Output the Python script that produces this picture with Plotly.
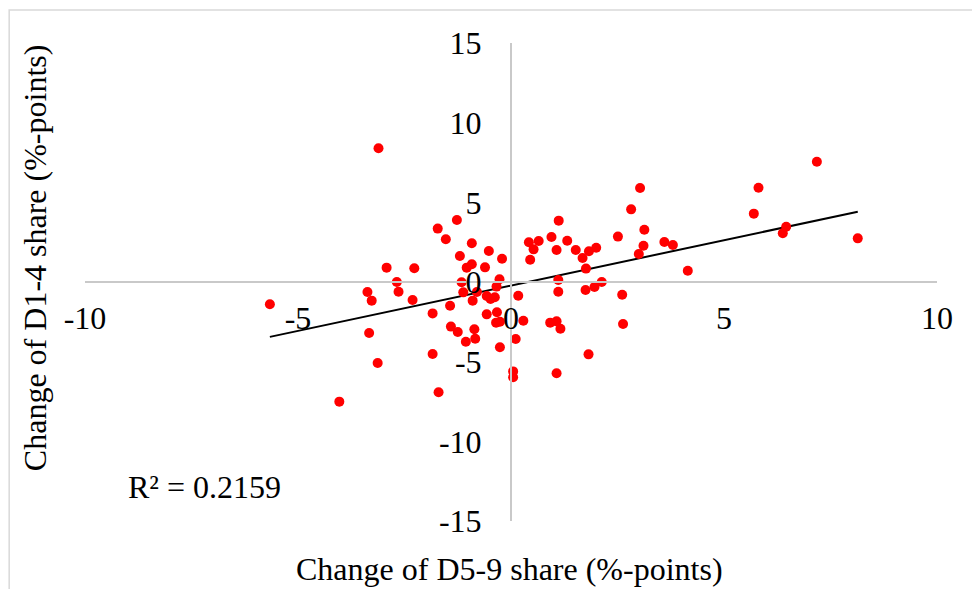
import numpy as np
import plotly.graph_objects as go

# Change of D5-9 share (%-points)
d59_change = [
    -3.11, -1.27, -1.72, -1.53, -0.92, -0.52, -0.21, -1.20, -1.04, -0.92,
    -0.61, -2.92, -2.27, -2.68, -2.64, -3.37, -3.27, -2.31, -5.66, -1.16,
    -1.12, -0.27, -0.34, -0.57, -0.38, -0.48, -0.90, -1.43, -1.84, -0.57,
    -0.33, -0.35, -0.26, -1.41, -1.25, -0.86, -0.84, -1.06, -0.26, -3.33,
    -1.84, -3.13, 0.05, 0.05, -1.70, -4.03, 0.11, 0.17, 3.03, 2.82,
    3.13, 3.11, 3.00, 3.60, 3.80, 4.15, 2.51, 1.12, 0.95, 0.65,
    0.42, 0.53, 1.07, 1.32, 1.52, 1.83, 2.00, 1.68, 0.45, 1.76,
    1.11, 1.11, 1.75, 1.96, 2.13, 2.61, 2.63, 0.29, 0.92, 1.07,
    1.16, 1.82, 1.07, 7.18, 5.81, 5.70, 6.46, 6.38, 8.14, -0.80,
]
# Change of D1-4 share (%-points)
d14_change = [
    8.39, 3.89, 3.35, 2.68, 2.43, 1.95, 1.46, 1.63, 0.90, 1.11,
    0.92, 0.90, 0.86, 0.00, -0.61, -0.63, -1.17, -1.13, -1.40, -0.02,
    -0.65, 0.17, -0.29, -0.88, -0.96, -1.07, -1.17, -1.49, -1.97, -2.03,
    -1.90, -2.55, -2.49, -2.80, -3.14, -2.97, -3.56, -3.75, -4.10, -3.20,
    -4.52, -5.08, -5.61, -5.98, -6.92, -7.51, -3.58, -0.86, 5.90, 4.56,
    3.28, 2.28, 1.76, 2.51, 2.32, 0.71, 2.85, 3.85, 2.82, 2.57,
    2.49, 2.05, 2.01, 2.59, 2.01, 1.93, 2.15, 1.51, 1.40, 0.84,
    0.13, -0.61, -0.50, -0.31, 0.00, -0.80, -2.64, -2.43, -2.55, -2.47,
    -2.93, -4.54, -5.73, 7.55, 5.92, 4.29, 3.47, 3.06, 2.74, -0.63,
]
x_ticks = [-10, -5, 0, 5, 10]
y_ticks = [-15, -10, -5, 0, 5, 10, 15]
r2_label = "R² = 0.2159"
x_title = "Change of D5-9 share (%-points)"
y_title = "Change of D1-4 share (%-points)"

xs = np.array(d59_change)
ys = np.array(d14_change)
slope, intercept = np.polyfit(xs, ys, 1)
trend_x = np.array([xs.min(), xs.max()])
trend_y = slope * trend_x + intercept

FONT = "Liberation Serif, Times New Roman, serif"
FS = 32

fig = go.Figure()
fig.add_trace(go.Scatter(
    x=trend_x, y=trend_y, mode="lines",
    line=dict(color="black", width=2), hoverinfo="skip", showlegend=False,
))
fig.add_trace(go.Scatter(
    x=xs, y=ys, mode="markers",
    marker=dict(color="#ff0000", size=10, line=dict(width=0)),
    showlegend=False,
))

fig.update_layout(
    width=972, height=589,
    margin=dict(l=85, r=35, t=43, b=68),
    plot_bgcolor="white", paper_bgcolor="white",
    font=dict(family=FONT, size=FS, color="black"),
    xaxis=dict(
        range=[-10, 10], tickvals=x_ticks, ticktext=[str(v) for v in x_ticks],
        anchor="free", position=0.5, showline=True, linecolor="#c9c9c9",
        linewidth=2, showgrid=False, zeroline=False,
        ticks="outside", ticklen=8, tickcolor="rgba(0,0,0,0)",
        tickfont=dict(family=FONT, size=FS),
    ),
    yaxis=dict(
        range=[-15, 15], tickvals=y_ticks, ticktext=[str(v) for v in y_ticks],
        anchor="free", position=0.5, showline=True, linecolor="#c9c9c9",
        linewidth=2, showgrid=False, zeroline=False,
        ticks="outside", ticklen=22, tickcolor="rgba(0,0,0,0)",
        tickfont=dict(family=FONT, size=FS),
    ),
    shapes=[dict(
        type="rect", xref="paper", yref="paper",
        x0=-0.089, x1=1.3, y0=-0.4, y1=1.069,
        line=dict(color="#d9d9d9", width=1.5), fillcolor="rgba(0,0,0,0)",
        layer="below",
    )],
    annotations=[
        dict(text=x_title, xref="paper", yref="paper", x=0.4977, y=-0.101,
             showarrow=False, font=dict(family=FONT, size=FS),
             xanchor="center", yanchor="middle"),
        dict(text=y_title, xref="paper", yref="paper", x=-0.0587, y=0.552,
             showarrow=False, textangle=-90, font=dict(family=FONT, size=FS),
             xanchor="center", yanchor="middle"),
        dict(text=r2_label, xref="paper", yref="paper", x=0.1397, y=0.071,
             showarrow=False, font=dict(family=FONT, size=FS),
             xanchor="center", yanchor="middle"),
    ],
)

fig.write_html(
    "out.html",
    config={"displayModeBar": False},
    post_script="document.body.style.margin='0';document.body.style.overflow='hidden';",
)
